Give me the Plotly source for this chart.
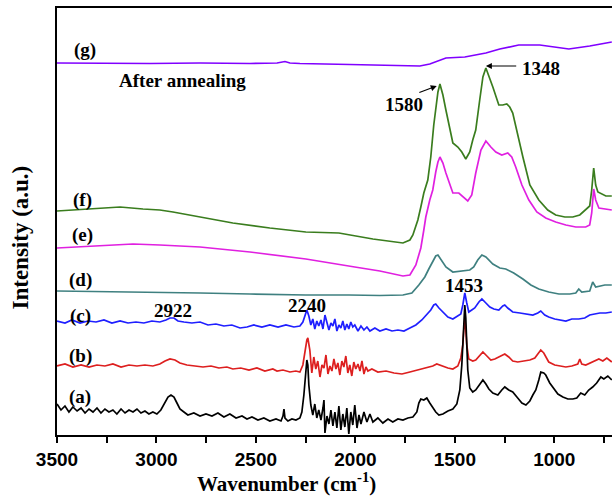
import plotly.graph_objects as go

# ---------------- data (wavenumber, intensity in a.u.) ----------------
wn_g = [3500, 3284, 3033, 2781, 2530, 2394, 2354, 2329, 2279, 2028, 1776, 1676, 1626, 1575, 1545,
        1450, 1344, 1274, 1179, 1073, 972, 927, 822, 711]
int_g = [372, 371.5, 371.5, 372, 371.5, 372, 373.5, 372, 371.5, 370.5, 369.5, 369, 371, 375, 377,
         378, 382, 386, 390, 390, 387, 386, 389, 393]

wn_f = [3500, 3334, 3183, 3068, 2983, 2917, 2781, 2616, 2430, 2249, 2083, 1912, 1761, 1726, 1711,
        1686, 1671, 1656, 1636, 1621, 1606, 1596, 1585, 1575, 1560, 1545, 1525, 1510, 1485, 1465,
        1445, 1425, 1410, 1395, 1375, 1359, 1344, 1324, 1309, 1279, 1259, 1239, 1224, 1209, 1184,
        1158, 1123, 1078, 1033, 993, 947, 907, 872, 842, 822, 812, 802, 792, 781, 741, 711]
int_f = [224, 226, 228, 226, 225, 223, 218, 212, 207, 203, 202, 196, 192, 195, 200,
         215, 228, 242, 255, 278, 310, 325, 343, 351, 340, 325, 305, 292, 288, 283,
         276, 283, 295, 305, 335, 358, 367, 357, 348, 330, 330, 331, 328, 322, 300,
         278, 250, 235, 225, 220, 218, 218, 220, 225, 229, 245, 267, 250, 243, 239, 239]

wn_e = [3500, 3334, 3118, 2983, 2781, 2530, 2249, 2003, 1877, 1761, 1726, 1696, 1681, 1671, 1656,
        1646, 1626, 1611, 1596, 1585, 1575, 1560, 1545, 1525, 1510, 1480, 1455, 1435, 1415, 1395,
        1369, 1344, 1319, 1294, 1264, 1234, 1214, 1194, 1163, 1128, 1088, 1043, 993, 942, 892,
        842, 822, 812, 802, 792, 776, 711]
int_e = [187, 189, 191, 190, 188, 183, 176, 168, 164, 159, 160, 170, 180, 187, 205,
         218, 235, 245, 263, 273, 278, 272, 262, 250, 242, 242, 238, 234, 240, 262,
         285, 294, 288, 283, 280, 282, 278, 268, 250, 235, 223, 217, 213, 210, 208,
         208, 210, 222, 246, 235, 227, 225]

wn_d = [3500, 3284, 3033, 2781, 2530, 2249, 2033, 1877, 1761, 1716, 1681, 1651, 1631, 1611, 1596,
        1585, 1570, 1545, 1510, 1475, 1445, 1425, 1405, 1385, 1364, 1344, 1309, 1274, 1244, 1204,
        1158, 1118, 1078, 1028, 977, 922, 892, 877, 862, 822, 807, 792, 746, 711]
int_d = [144, 143.5, 143, 142, 141, 140, 140, 139.5, 140, 142, 150, 158, 166, 173, 179,
         180, 175, 168, 163, 164, 165, 165, 168, 175, 180, 178, 171, 167, 166, 162,
         156, 150, 146, 143, 141, 141, 142, 146, 143, 144, 153, 148, 150, 150]

wn_c = [3500, 3460, 3425, 3384, 3344, 3304, 3264, 3224, 3183, 3143, 3103, 3063, 3023, 2983, 2952,
        2932, 2912, 2892, 2862, 2822, 2781, 2741, 2701, 2661, 2621, 2580, 2545, 2510, 2470, 2430,
        2389, 2349, 2309, 2279, 2264, 2254, 2244, 2234, 2224, 2214, 2204, 2194, 2184, 2173, 2163,
        2153, 2143, 2133, 2123, 2113, 2103, 2093, 2083, 2073, 2063, 2053, 2043, 2033, 2023, 2013,
        2003, 1987, 1972, 1957, 1942, 1927, 1902, 1877, 1846, 1816, 1786, 1756, 1726, 1696, 1666,
        1641, 1621, 1606, 1596, 1580, 1560, 1535, 1510, 1485, 1470, 1460, 1450, 1440, 1430, 1415,
        1400, 1379, 1364, 1344, 1324, 1304, 1279, 1259, 1249, 1234, 1209, 1173, 1138, 1108, 1083,
        1068, 1048, 1028, 998, 972, 942, 912, 877, 847, 822, 797, 771, 741, 711]
int_c = [114, 112, 115, 112, 114, 113, 115, 112, 114, 112, 113, 112, 114, 113, 115,
         117, 117, 114, 113, 112, 113, 110, 111, 109, 110, 107, 108, 110, 108, 110,
         108, 110, 108, 109, 113, 119, 125, 119, 110, 116, 106, 114, 109, 115, 106,
         120, 111, 105, 112, 109, 116, 104, 110, 107, 114, 105, 111, 106, 113, 108,
         110, 104, 109, 105, 108, 104, 107, 104, 106, 104, 105, 104, 107, 110, 115,
         120, 125, 130, 131, 127, 123, 118, 116, 119, 121, 130, 142, 132, 123, 125,
         127, 133, 136, 132, 128, 126, 125, 129, 130, 127, 123, 122, 121, 120, 122,
         124, 120, 118, 116, 115, 114, 116, 116, 117, 120, 121, 122, 122, 123]

wn_b = [3500, 3460, 3420, 3379, 3339, 3299, 3259, 3219, 3178, 3138, 3098, 3058, 3018, 2983, 2957,
        2932, 2907, 2882, 2847, 2807, 2766, 2726, 2686, 2646, 2616, 2576, 2535, 2495, 2455, 2415,
        2394, 2364, 2329, 2299, 2279, 2264, 2254, 2244, 2239, 2229, 2219, 2209, 2199, 2189, 2178,
        2168, 2158, 2148, 2138, 2128, 2118, 2108, 2098, 2088, 2078, 2068, 2058, 2048, 2038, 2028,
        2018, 2008, 1998, 1987, 1977, 1967, 1957, 1947, 1937, 1917, 1887, 1846, 1806, 1766, 1726,
        1686, 1646, 1611, 1591, 1565, 1535, 1510, 1485, 1470, 1460, 1455, 1450, 1445, 1440, 1430,
        1410, 1395, 1375, 1359, 1339, 1319, 1299, 1279, 1249, 1229, 1209, 1184, 1153, 1123, 1098,
        1078, 1068, 1053, 1028, 998, 972, 942, 912, 882, 872, 862, 842, 812, 792, 776,
        756, 736, 711]
int_b = [69, 71, 68, 70, 68, 70, 69, 71, 68, 70, 69, 70, 69, 71, 74,
         76, 75, 72, 70, 69, 68, 69, 67, 68, 66, 67, 65, 67, 64, 66,
         64, 65, 63, 64, 63, 70, 83, 95, 97, 85, 62, 78, 66, 74, 58,
         70, 67, 80, 61, 69, 64, 76, 66, 72, 60, 74, 68, 79, 62, 70,
         59, 73, 66, 71, 64, 74, 61, 68, 64, 66, 63, 64, 62, 61, 63,
         65, 67, 69, 71, 69, 67, 66, 69, 77, 90, 105, 116, 105, 90, 76,
         74, 75, 80, 83, 79, 75, 76, 78, 81, 78, 74, 73, 74, 75, 77,
         82, 85, 82, 73, 70, 69, 68, 69, 71, 76, 71, 70, 73, 75, 76,
         74, 77, 73]

wn_a = [3500, 3480, 3460, 3440, 3420, 3399, 3379, 3359, 3339, 3319, 3299, 3279, 3259, 3239, 3219,
        3199, 3178, 3158, 3138, 3118, 3098, 3078, 3058, 3038, 3018, 2998, 2978, 2957, 2942, 2927,
        2912, 2897, 2882, 2862, 2842, 2812, 2781, 2751, 2721, 2691, 2661, 2631, 2600, 2570, 2545,
        2520, 2490, 2460, 2430, 2399, 2374, 2364, 2359, 2354, 2339, 2319, 2299, 2279, 2269, 2259,
        2249, 2244, 2239, 2234, 2224, 2214, 2204, 2194, 2184, 2173, 2163, 2158, 2153, 2143, 2133,
        2123, 2113, 2103, 2093, 2083, 2073, 2063, 2053, 2043, 2033, 2023, 2013, 2003, 1992, 1982,
        1972, 1957, 1942, 1927, 1912, 1887, 1862, 1836, 1812, 1786, 1761, 1736, 1711, 1691, 1681,
        1671, 1656, 1641, 1626, 1611, 1596, 1580, 1560, 1535, 1510, 1490, 1475, 1465, 1460, 1455,
        1450, 1445, 1440, 1435, 1425, 1410, 1395, 1379, 1359, 1344, 1329, 1309, 1284, 1264, 1249,
        1229, 1209, 1184, 1163, 1143, 1123, 1108, 1093, 1078, 1068, 1053, 1043, 1023, 1003, 982,
        957, 932, 907, 887, 867, 847, 827, 807, 787, 766, 751, 731, 711]
int_a = [31, 25, 29, 23, 28, 24, 27, 22, 26, 23, 27, 22, 26, 23, 25,
         21, 26, 22, 25, 23, 26, 22, 24, 21, 23, 21, 25, 33, 38, 40,
         38, 32, 26, 23, 20, 22, 19, 21, 19, 22, 18, 21, 17, 19, 16,
         18, 15, 17, 14, 16, 14, 19, 26, 17, 14, 16, 15, 17, 23, 40,
         60, 75, 70, 50, 30, 20, 31, 17, 25, 15, 27, 35, 2, 19, 11,
         25, 9, 23, 7, 29, 5, 21, 8, 27, 1, 23, 10, 30, 7, 20,
         11, 23, 13, 21, 13, 17, 12, 16, 13, 16, 15, 17, 18, 23, 32,
         36, 35, 37, 32, 28, 23, 20, 21, 24, 26, 31, 45, 70, 90, 117,
         130, 117, 90, 65, 47, 43, 45, 49, 55, 51, 46, 42, 40, 45, 48,
         45, 43, 37, 32, 30, 34, 40, 45, 55, 63, 62, 60, 52, 46, 41,
         38, 36, 36, 37, 42, 40, 45, 48, 52, 58, 56, 59, 55]

series = [
    ("(g)", wn_g, int_g, "#8000ff"),
    ("(f)", wn_f, int_f, "#3a7d1e"),
    ("(e)", wn_e, int_e, "#e020e0"),
    ("(d)", wn_d, int_d, "#3f8080"),
    ("(c)", wn_c, int_c, "#1f1fff"),
    ("(b)", wn_b, int_b, "#dd1f1f"),
    ("(a)", wn_a, int_a, "#000000"),
]

# curve labels: (text, wavenumber, intensity)
curve_labels = [("(g)", 3359, 385), ("(f)", 3374, 235), ("(e)", 3374, 200), ("(d)", 3384, 155),
                ("(c)", 3384, 119), ("(b)", 3384, 79), ("(a)", 3384, 38)]
peak_labels = [("2922", 2917, 125), ("2240", 2244, 130), ("1453", 1455, 150),
               ("1580", 1756, 331), ("1348", 1068, 367), ("After annealing", 2867, 355)]
# arrows: (head wn, head int, tail wn, tail int)
arrows = [(1591, 349, 1686, 342), (1344, 369, 1184, 369)]

tick_vals = [3500, 3000, 2500, 2000, 1500, 1000]
tick_text = ["3500", "3000", "2500", "2000", "1500", "1000"]

SERIF = "Liberation Serif"
SANS = "Liberation Sans"

fig = go.Figure()
for name, x, y, c in series:
    fig.add_trace(go.Scatter(x=x, y=y, mode="lines", name=name,
                             line=dict(color=c, width=1.7), showlegend=False, hoverinfo="skip"))

for t, x, y in curve_labels + peak_labels:
    fig.add_annotation(x=x, y=y, text="<b>%s</b>" % t, showarrow=False,
                       font=dict(family=SERIF, size=19, color="black"),
                       xanchor="center", yanchor="middle")

for hx, hy, tx, ty in arrows:
    fig.add_annotation(x=hx, y=hy, ax=tx, ay=ty, axref="x", ayref="y", text="",
                       showarrow=True, arrowhead=2, arrowsize=1, arrowwidth=1.2,
                       arrowcolor="black")

fig.add_annotation(xref="paper", yref="paper", x=0.4144, y=-0.112,
                   text="<b>Wavenumber (cm<sup>-1</sup>)</b>", showarrow=False,
                   font=dict(family=SERIF, size=21, color="black"),
                   xanchor="center", yanchor="middle")
fig.add_annotation(xref="paper", yref="paper", x=-0.0649, y=0.4625,
                   text="<b>Intensity (a.u.)</b>", showarrow=False, textangle=-90,
                   font=dict(family=SERIF, size=23, color="black"),
                   xanchor="center", yanchor="middle")

fig.update_layout(
    width=612, height=504,
    margin=dict(l=57, r=0, t=8, b=69),
    paper_bgcolor="white", plot_bgcolor="white",
    xaxis=dict(range=[3500, 710], tickvals=tick_vals, ticktext=tick_text,
               ticks="outside", ticklen=6, tickwidth=2, tickcolor="black",
               minor=dict(dtick=250, ticks="outside", ticklen=6, tickwidth=2, tickcolor="black"),
               showline=True, linewidth=2, linecolor="black", mirror=True,
               showgrid=False, zeroline=False,
               tickfont=dict(family=SANS, size=19, color="black", weight="bold")),
    yaxis=dict(range=[0, 427], showticklabels=False, ticks="",
               showline=True, linewidth=2, linecolor="black", mirror=False,
               showgrid=False, zeroline=False),
)

fig.write_html("out.html")
